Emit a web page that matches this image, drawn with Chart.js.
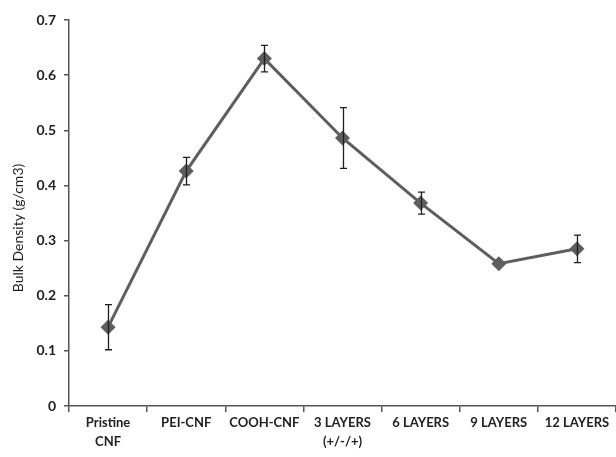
<!DOCTYPE html>
<html><head><meta charset="utf-8">
<script src="https://cdn.jsdelivr.net/npm/chart.js@4/dist/chart.umd.min.js"></script>
<style>html,body{margin:0;padding:0;background:#fff}#wrap{width:616px;height:457px;position:relative}</style>
</head><body><div id="wrap"><canvas id="c" width="616" height="457"></canvas></div>
<script>
const categories = [["Pristine","CNF"], "PEI-CNF", "COOH-CNF", ["3 LAYERS","(+/-/+)"], "6 LAYERS", "9 LAYERS", "12 LAYERS"];
const bulkDensity = [0.143, 0.426, 0.630, 0.486, 0.368, 0.258, 0.285];
const errorBars = [0.041, 0.025, 0.024, 0.055, 0.020, 0, 0.025];
const yMin = 0, yMax = 0.7, yStep = 0.1;
const yTitle = "Bulk Density (g/cm3)";

const errorBarPlugin = {
  id: 'errorBars',
  afterDatasetsDraw(chart) {
    const ctx = chart.ctx, ys = chart.scales.y;
    const meta = chart.getDatasetMeta(0);
    ctx.save();
    ctx.strokeStyle = '#1e1e1e';
    ctx.lineWidth = 1.3;
    meta.data.forEach((pt, i) => {
      const e = errorBars[i];
      if (!e) return;
      const px = Math.round(pt.x) + 0.5;
      const top = ys.getPixelForValue(bulkDensity[i] + e);
      const bot = ys.getPixelForValue(bulkDensity[i] - e);
      ctx.beginPath();
      ctx.moveTo(px, top); ctx.lineTo(px, bot);
      ctx.moveTo(px - 3.5, top); ctx.lineTo(px + 3.5, top);
      ctx.moveTo(px - 3.5, bot); ctx.lineTo(px + 3.5, bot);
      ctx.stroke();
    });
    ctx.restore();
  }
};

// y-axis title, placed beside the y scale, slightly below the plot centre as in the original
const yTitlePlugin = {
  id: 'yTitle',
  afterDraw(chart) {
    const ctx = chart.ctx, ys = chart.scales.y;
    const cy = (ys.top + ys.bottom) / 2 + 15;
    ctx.save();
    ctx.translate(ys.left + 18, cy);
    ctx.rotate(-Math.PI / 2);
    ctx.textAlign = 'center';
    ctx.textBaseline = 'middle';
    ctx.fillStyle = '#222';
    ctx.font = '14px Lato';
    ctx.fillText(yTitle, 0, 0);
    ctx.restore();
  }
};

new Chart(document.getElementById('c'), {
  type: 'line',
  data: {
    labels: categories,
    datasets: [{
      data: bulkDensity,
      borderColor: '#5e5e5e',
      backgroundColor: '#5e5e5e',
      borderWidth: 3,
      pointStyle: 'rectRot',
      pointRadius: 7.5,
      pointHoverRadius: 7.5,
      pointBorderWidth: 0,
      tension: 0
    }]
  },
  options: {
    responsive: false,
    animation: false,
    devicePixelRatio: 1,
    layout: { autoPadding: false, padding: { top: 20, right: 0, left: 0, bottom: 0 } },
    plugins: { legend: { display: false }, tooltip: { enabled: false } },
    scales: {
      x: {
        offset: true,
        afterFit: s => { s.height = 51; },
        grid: { offset: true, drawOnChartArea: false, tickLength: 6, color: '#555', lineWidth: 1.5 },
        border: { color: '#555', width: 1.5 },
        ticks: { autoSkip: false, maxRotation: 0, color: '#222', padding: 1,
                 font: { family: 'Lato', size: 13, weight: 'bold', lineHeight: 1.5 } }
      },
      y: {
        min: yMin, max: yMax,
        afterFit: s => { s.width = 69; },
        grid: { drawOnChartArea: false, tickLength: 5, color: '#555', lineWidth: 1.5 },
        border: { color: '#555', width: 1.5 },
        ticks: { stepSize: yStep, color: '#222', padding: 8,
                 font: { family: 'Lato', size: 14, weight: 'bold' },
                 callback: v => v === 0 ? '0' : v.toFixed(1) },
        title: { display: false }
      }
    }
  },
  plugins: [errorBarPlugin, yTitlePlugin]
});
</script></body></html>
